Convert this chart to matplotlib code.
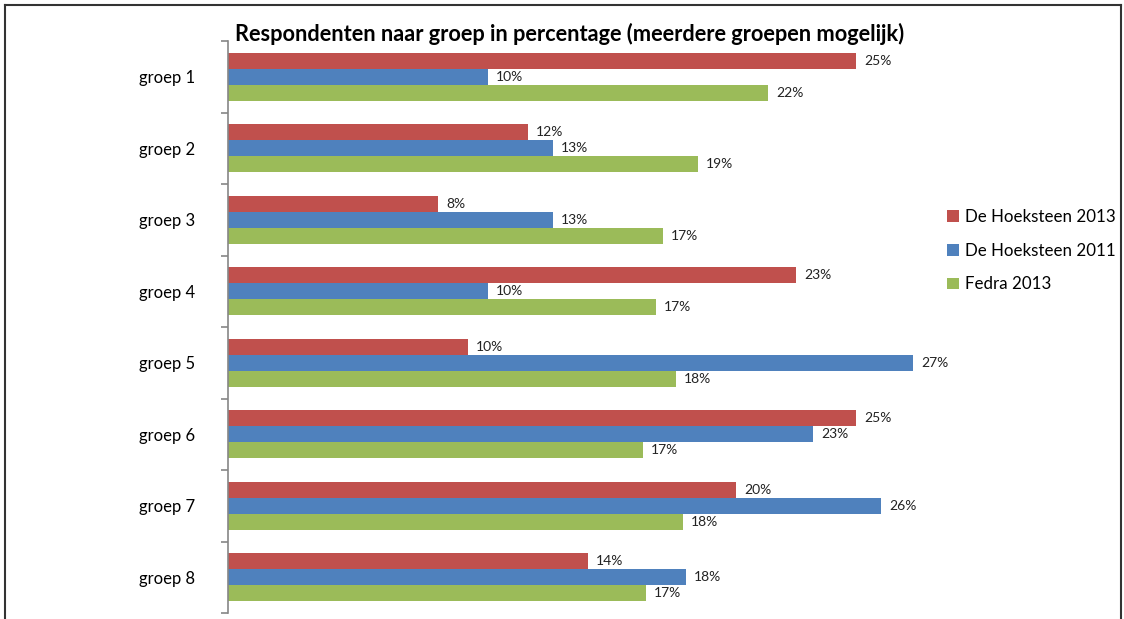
import matplotlib.pyplot as plt
from matplotlib.lines import Line2D

# data
groepen = ['groep 1', 'groep 2', 'groep 3', 'groep 4',
           'groep 5', 'groep 6', 'groep 7', 'groep 8']
reeksen = ['De Hoeksteen 2013', 'De Hoeksteen 2011', 'Fedra 2013']
hoeksteen2013 = [25.1, 12.0, 8.4, 22.7, 9.6, 25.1, 20.3, 14.4]
hoeksteen2011 = [10.4, 13.0, 13.0, 10.4, 27.4, 23.4, 26.1, 18.3]
fedra2013 = [21.6, 18.8, 17.4, 17.1, 17.9, 16.6, 18.2, 16.7]
kleuren = ['#c0504d', '#4f81bd', '#9bbb59']

plt.rcParams['font.family'] = ['Lato', 'DejaVu Sans']

fig = plt.figure(figsize=(11.24, 6.19), dpi=100)
W, H = 1124, 619
ax = fig.add_axes([228 / W, 1 - 613 / H, 700 / W, 572 / H])

hoogte = 0.224
pos = list(range(len(groepen)))
for i, (waarden, naam) in enumerate(zip([hoeksteen2013, hoeksteen2011, fedra2013], reeksen)):
    y = [p + (i - 1) * hoogte for p in pos]
    bars = ax.barh(y, waarden, height=hoogte, color=kleuren[i], label=naam)
    for b, v in zip(bars, waarden):
        ax.annotate(f'{v:.0f}%', (b.get_width(), b.get_y() + b.get_height() / 2),
                    xytext=(6, 0), textcoords='offset points',
                    va='center', ha='left', fontsize=10, color='#222222')

ax.set_xlim(0, 28)
ax.set_ylim(len(groepen) - 0.5, -0.5)
ax.set_yticks(pos)
ax.set_yticklabels(groepen, fontsize=12)
ax.set_yticks([p - 0.5 for p in pos] + [len(groepen) - 0.5], minor=True)
ax.tick_params(axis='y', which='major', length=0, pad=24)
ax.tick_params(axis='y', which='minor', length=5, direction='out', color='#868686', width=1.2)
ax.set_xticks([])
for s in ['top', 'right', 'bottom']:
    ax.spines[s].set_visible(False)
ax.spines['left'].set_color('#868686')
ax.spines['left'].set_linewidth(1.2)

fig.text(570 / W, 1 - 34 / H, 'Respondenten naar groep in percentage (meerdere groepen mogelijk)',
         ha='center', va='center', fontsize=15.7, fontweight='bold')

leg = fig.legend(loc='upper left', bbox_to_anchor=(940 / W, 1 - 202 / H), frameon=False,
                 fontsize=12.2, handlelength=0.7, handleheight=0.7, handletextpad=0.4,
                 labelspacing=1.05, borderaxespad=0)

# kader rond de grafiek
for xs, ys in [([5, 5], [H, 5]), ([5, 1121], [5, 5]), ([1121, 1121], [5, H])]:
    fig.add_artist(Line2D([x / W for x in xs], [1 - y / H for y in ys],
                          color='#333333', linewidth=1.5))

fig.savefig('out.png', dpi=100)
